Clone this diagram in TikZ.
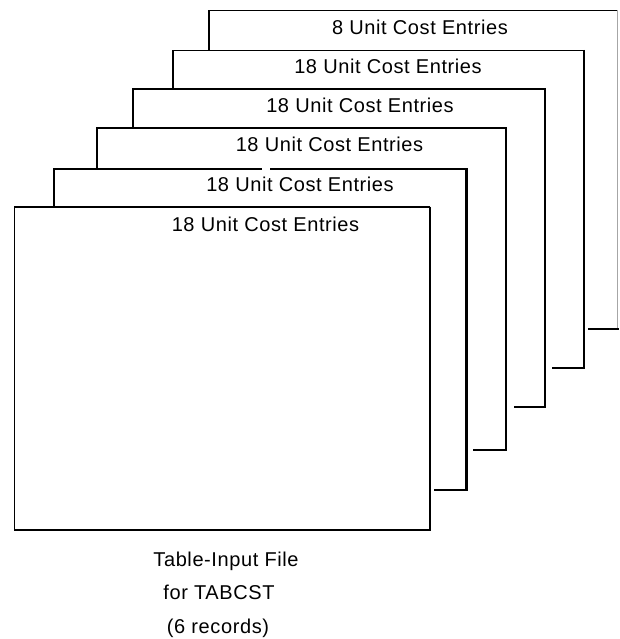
\documentclass[tikz,border=0pt]{standalone}
\usepackage{fontspec}
\setmainfont{Liberation Sans}[LetterSpace=3]
\begin{document}
\begin{tikzpicture}[x=1pt,y=-1pt,
  lt/.style={line width=1.5pt,line join=miter},
  hv/.style={line width=2.3pt,line join=miter},
  faint/.style={line width=0.8pt,draw=black!35},
  lbl/.style={anchor=base,inner sep=0pt,font=\fontsize{20}{24}\selectfont}]
\useasboundingbox (0,0) rectangle (619,639);
% card 1 (back)
\draw[lt] (209,50.5) -- (209,10.5) -- (617.5,10.5);
\draw[faint] (617.5,10.5) -- (617.5,329);
\draw[hv] (588,329) -- (619,329);
% card 2
\draw[lt] (173,89) -- (173,50.5) -- (584,50.5);
\draw[hv] (584,50) -- (584,368) -- (552,368);
% card 3
\draw[lt] (133,128) -- (133,89) -- (545,89);
\draw[hv] (545,88.5) -- (545,407) -- (514,407);
% card 4
\draw[lt] (97,169) -- (97,128) -- (506,128);
\draw[hv] (506,127.5) -- (506,450) -- (473,450);
% card 5
\draw[lt] (54,207) -- (54,169) -- (262,169);
\draw[lt] (270,169) -- (466.5,169);
\draw[hv] (466.5,168.5) -- (466.5,490) -- (434,490);
% card 6 (front)
\draw[lt] (14.5,530) -- (14.5,207) -- (430,207);
\draw[hv] (430,206.5) -- (430,530) -- (14,530);
% labels
\node[lbl] (t1) at (420,35) {8 Unit Cost Entries};
\node[lbl] (t2) at (388,74) {18 Unit Cost Entries};
\node[lbl] (t3) at (360,112.7) {18 Unit Cost Entries};
\node[lbl] (t4) at (329.5,151.7) {18 Unit Cost Entries};
\node[lbl] (t5) at (300,191.7) {18 Unit Cost Entries};
\node[lbl] (t6) at (265.5,231.7) {18 Unit Cost Entries};
\node[lbl] (c1) at (226,566.7) {Table-Input File};
\node[lbl] (c2) at (219,599.3) {for TABCST};
\node[lbl] (c3) at (218,633) {(6 records)};
\end{tikzpicture}
\end{document}
